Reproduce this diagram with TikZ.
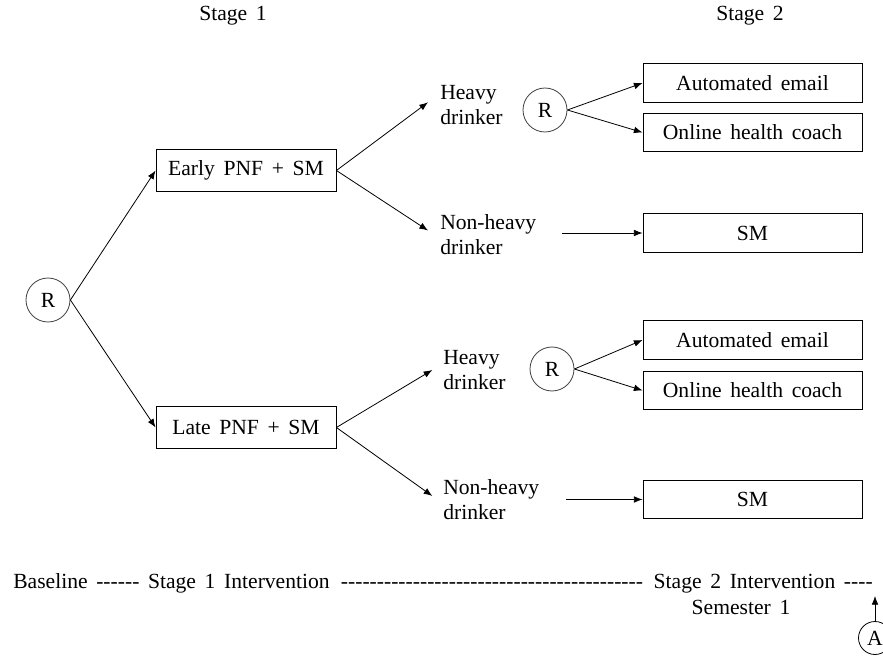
\documentclass[tikz,border=0pt]{standalone}
\usepackage{fontspec}
\setmainfont{Liberation Serif}[WordSpace=1.6]
\usetikzlibrary{arrows.meta}
\newcommand\hyrun[1]{\foreach\k in {1,...,#1}{-\kern0pt}}
\tikzset{
  boxa/.style={draw, line width=0.65pt, minimum width=135pt, minimum height=32pt, inner sep=0pt},
  boxb/.style={draw, line width=0.65pt, minimum width=164.25pt, minimum height=29pt, inner sep=0pt},
  rc/.style={circle, draw=black!75, line width=0.6pt, minimum size=33pt, inner sep=0pt},
  lbl/.style={align=left, anchor=west, inner sep=0pt},
  arr/.style={-{Latex[length=6.5pt,width=5pt]}, line width=0.6pt},
}
\begin{document}
\begin{tikzpicture}[x=0.75pt, y=-0.75pt, font=\fontsize{16.2}{18.75}\selectfont]
\useasboundingbox (0,0) rectangle (883,656);

% stage headers
\node[anchor=base] (st1) at (233,21) {Stage 1};
\node[anchor=base] (st2) at (750,21) {Stage 2};

% stage 1
\node[rc] (r0) at (48,300) {R};
\node[boxa] (early) at (246,170.5) {Early PNF + SM};
\node[boxa] (late) at (246,427.5) {Late PNF + SM};
\draw[arr] (r0.east) -- (early.west);
\draw[arr] (r0.east) -- (late.west);

% responder labels
\node[lbl] (h1) at (440,105) {Heavy\\drinker};
\node[lbl] (n1) at (440,234.5) {Non-heavy\\drinker};
\node[lbl] (h2) at (443,370) {Heavy\\drinker};
\node[lbl] (n2) at (443,500) {Non-heavy\\drinker};
\draw[arr] (early.east) -- ([xshift=-9pt,yshift=2pt]h1.west);
\draw[arr] (early.east) -- ([xshift=-9pt,yshift=3pt]n1.west);
\draw[arr] (late.east) -- ([xshift=-8pt]h2.west);
\draw[arr] (late.east) -- ([xshift=-8pt,yshift=3pt]n2.west);

% stage 2, upper
\node[rc] (r1) at (545,110) {R};
\node[boxb] (ae1) at (752.5,83) {Automated email};
\node[boxb] (oh1) at (752.5,132.5) {Online health coach};
\node[boxb] (sm1) at (752.5,233) {SM};
\draw[arr] (r1.east) -- (ae1.west);
\draw[arr] (r1.east) -- (oh1.west);
\coordinate (s1) at (562,233);
\draw[arr] (s1) -- (sm1.west);

% stage 2, lower
\node[rc] (r2) at (552,369) {R};
\node[boxb] (ae2) at (752.5,340) {Automated email};
\node[boxb] (oh2) at (752.5,390.5) {Online health coach};
\node[boxb] (sm2) at (752.5,499.5) {SM};
\draw[arr] (r2.east) -- (ae2.west);
\draw[arr] (r2.east) -- (oh2.west);
\coordinate (s2) at (566,499.5);
\draw[arr] (s2) -- (sm2.west);

% timeline
\node[anchor=base west, inner sep=0pt] (tl1) at (13,588) {Baseline \hyrun{6} Stage 1 Intervention};
\node[anchor=base, inner sep=0pt] (tl2) at (492,588) {\hyrun{42}};
\node[anchor=base east, inner sep=0pt] (tl3) at (873,588) {Stage 2 Intervention \hyrun{4}};
\node[anchor=base] (sem) at (741,614) {Semester 1};
\node[circle, draw, line width=0.6pt, minimum size=24.75pt, inner sep=0pt] (A) at (875,638) {A};
\coordinate (atop) at (875,596);
\draw[arr] (A) -- (atop);
\end{tikzpicture}
\end{document}
